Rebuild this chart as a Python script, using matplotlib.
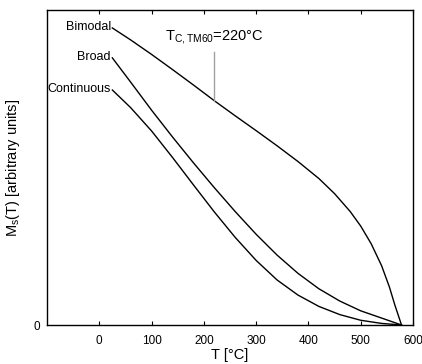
import matplotlib
matplotlib.use("Agg")
import matplotlib.pyplot as plt

plt.rcParams['font.family'] = ['Liberation Sans', 'DejaVu Sans']
plt.rcParams['mathtext.default'] = 'regular'

# Saturation magnetisation vs temperature for three grain-size distributions
t_bimodal = [25, 60, 100, 140, 180, 220, 260, 300, 340, 380, 420, 450, 480, 500, 520, 540, 555, 565, 572, 578]
m_bimodal = [0.943, 0.905, 0.859, 0.811, 0.762, 0.712, 0.664, 0.617, 0.569, 0.519, 0.465, 0.417, 0.360,
             0.314, 0.258, 0.188, 0.120, 0.065, 0.030, 0.0]

t_broad = [25, 60, 100, 140, 180, 220, 260, 300, 340, 380, 420, 460, 500, 540, 578]
m_broad = [0.848, 0.771, 0.682, 0.597, 0.515, 0.436, 0.360, 0.288, 0.222, 0.164, 0.115, 0.076, 0.045, 0.022, 0.0]

t_cont = [25, 60, 100, 140, 180, 220, 260, 300, 340, 380, 420, 460, 500, 540, 578]
m_cont = [0.746, 0.690, 0.616, 0.532, 0.445, 0.359, 0.278, 0.205, 0.143, 0.095, 0.059, 0.033, 0.015, 0.005, 0.0]

series_names = ["Bimodal", "Broad", "Continuous"]
x_ticks = [0, 100, 200, 300, 400, 500, 600]
tc_tm60 = 220
tc_label = r'T$_{C,TM60}$=220°C'

fig = plt.figure(figsize=(4.22, 3.64), dpi=100)
ax = fig.add_axes([47 / 422, 39 / 364, 366 / 422, 315 / 364])

curves = [(t_bimodal, m_bimodal), (t_broad, m_broad), (t_cont, m_cont)]
for name, (t, m) in zip(series_names, curves):
    ax.plot(t, m, color='black', lw=1.0, solid_joinstyle='round')
    ax.text(t[0] - 3, m[0] + 0.003, name, ha='right', va='center', fontsize=9)

# Curie temperature marker for TM60
m_at_tc = m_bimodal[t_bimodal.index(tc_tm60)]
ax.plot([tc_tm60, tc_tm60], [m_at_tc, 0.868], color='#a0a0a0', lw=1.0)
ax.text(126, 0.905, tc_label, ha='left', va='baseline', fontsize=10.5)

ax.set_xlim(-100, 600)
ax.set_ylim(0, 1)
ax.set_xticks(x_ticks)
ax.set_yticks([0])
ax.tick_params(axis='x', direction='in', length=3, width=0.8, top=True, labelsize=8.5, pad=7)
ax.tick_params(axis='y', direction='in', length=0, labelsize=8.5, pad=5)
for s in ax.spines.values():
    s.set_linewidth(1.0)

ax.set_xlabel('T [°C]', fontsize=10.5, labelpad=1)
ax.set_ylabel('M$_s$(T) [arbitrary units]', fontsize=10.5, labelpad=8)

fig.savefig('out.png', dpi=100)
